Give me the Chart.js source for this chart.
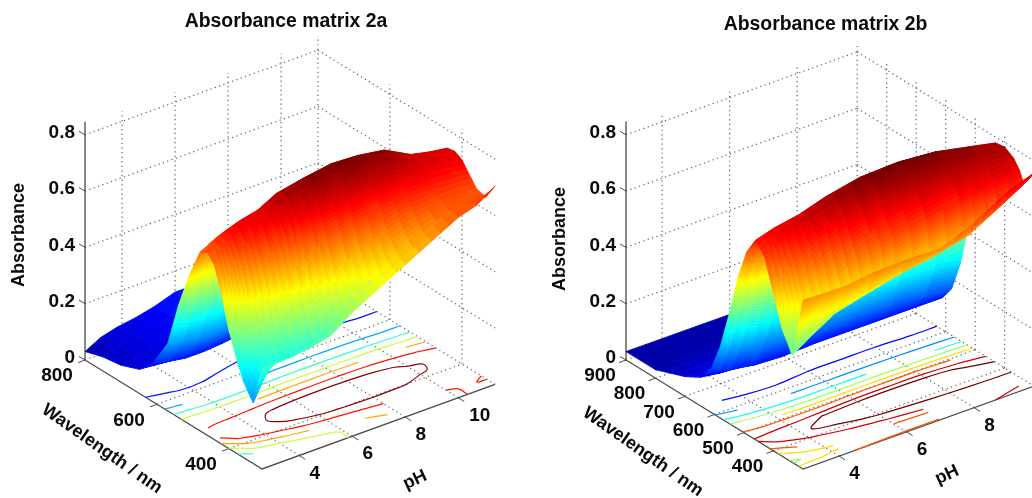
<!DOCTYPE html>
<html>
<head>
<meta charset="utf-8">
<title>Absorbance matrix</title>
<script src="https://cdn.jsdelivr.net/npm/chart.js@4"></script>
<style>
  html, body { margin: 0; padding: 0; background: #fff; overflow: hidden; }
  canvas { position: absolute; top: 0; }
  #matrizA { left: 0; }
  #matrizB { left: 520px; }
</style>
</head>
<body>
<canvas id="matrizA" width="520" height="498"></canvas>
<canvas id="matrizB" width="512" height="498"></canvas>
<script>
// Valores: filas = longitud de onda, columnas = pH
const phA = [2.6, 3.2, 3.8, 4.5, 5.2, 6, 7, 8, 9, 10, 10.7, 11.39];
const wavelengthA = [800, 750, 700, 650, 610, 570, 540, 510, 480, 460, 440, 420, 400, 380, 360, 333, 308];
const absorbanceA = [
  [0.03, 0.06, 0.075, 0.085, 0.1, 0.125, 0.125, 0.105, 0.085, 0.065, 0.05, 0.04],
  [0.05, 0.07, 0.085, 0.095, 0.105, 0.12, 0.125, 0.115, 0.095, 0.075, 0.06, 0.05],
  [0.06, 0.065, 0.075, 0.085, 0.1, 0.11, 0.115, 0.11, 0.1, 0.085, 0.075, 0.07],
  [0.085, 0.08, 0.08, 0.085, 0.095, 0.1, 0.105, 0.105, 0.105, 0.1, 0.095, 0.095],
  [0.14, 0.125, 0.115, 0.115, 0.12, 0.13, 0.14, 0.145, 0.145, 0.145, 0.14, 0.14],
  [0.24, 0.23, 0.22, 0.215, 0.22, 0.23, 0.235, 0.235, 0.235, 0.23, 0.225, 0.225],
  [0.4, 0.38, 0.365, 0.36, 0.36, 0.365, 0.37, 0.37, 0.365, 0.36, 0.35, 0.345],
  [0.53, 0.54, 0.54, 0.54, 0.545, 0.55, 0.555, 0.555, 0.55, 0.54, 0.52, 0.5],
  [0.635, 0.665, 0.675, 0.69, 0.705, 0.715, 0.72, 0.72, 0.71, 0.68, 0.655, 0.625],
  [0.65, 0.7, 0.72, 0.735, 0.77, 0.785, 0.79, 0.785, 0.77, 0.74, 0.72, 0.69],
  [0.62, 0.71, 0.735, 0.745, 0.79, 0.815, 0.83, 0.825, 0.81, 0.76, 0.745, 0.735],
  [0.53, 0.655, 0.7, 0.73, 0.76, 0.79, 0.8, 0.8, 0.79, 0.755, 0.745, 0.74],
  [0.42, 0.56, 0.62, 0.66, 0.72, 0.74, 0.755, 0.76, 0.755, 0.74, 0.735, 0.725],
  [0.34, 0.45, 0.51, 0.56, 0.6, 0.64, 0.67, 0.69, 0.7, 0.7, 0.695, 0.69],
  [0.27, 0.36, 0.4, 0.45, 0.49, 0.54, 0.585, 0.62, 0.65, 0.66, 0.66, 0.655],
  [0.215, 0.325, 0.33, 0.34, 0.38, 0.44, 0.5, 0.56, 0.6, 0.645, 0.655, 0.645],
  [0.36, 0.36, 0.36, 0.37, 0.385, 0.44, 0.49, 0.54, 0.59, 0.64, 0.66, 0.705],
];
const levelsA = [0.11, 0.22, 0.325, 0.43, 0.54, 0.65, 0.75];
const phTicksA = [4, 6, 8, 10];
const wlTicksA = [800, 600, 400];

const phB = [2.93, 3.5, 4.2, 5, 6, 7, 8, 9, 9.78];
const wavelengthB = [900, 800, 700, 650, 610, 580, 550, 520, 490, 460, 430, 400, 370, 350, 337, 320, 300];
const absorbanceB = [
  [0.03, 0.03, 0.03, 0.03, 0.03, 0.03, 0.03, 0.025, 0.02],
  [0.03, 0.035, 0.04, 0.04, 0.04, 0.04, 0.035, 0.03, 0.03],
  [0.07, 0.07, 0.07, 0.07, 0.07, 0.07, 0.07, 0.065, 0.06],
  [0.1, 0.09, 0.085, 0.085, 0.09, 0.09, 0.09, 0.085, 0.085],
  [0.16, 0.13, 0.115, 0.11, 0.115, 0.115, 0.115, 0.115, 0.115],
  [0.255, 0.22, 0.2, 0.19, 0.19, 0.19, 0.185, 0.175, 0.165],
  [0.39, 0.35, 0.32, 0.305, 0.305, 0.305, 0.3, 0.29, 0.275],
  [0.54, 0.5, 0.475, 0.455, 0.455, 0.46, 0.46, 0.45, 0.44],
  [0.65, 0.63, 0.63, 0.63, 0.65, 0.655, 0.655, 0.63, 0.6],
  [0.71, 0.73, 0.745, 0.775, 0.8, 0.805, 0.795, 0.76, 0.715],
  [0.67, 0.73, 0.765, 0.8, 0.83, 0.835, 0.825, 0.8, 0.78],
  [0.56, 0.655, 0.71, 0.75, 0.785, 0.8, 0.8, 0.795, 0.785],
  [0.45, 0.55, 0.6, 0.665, 0.705, 0.73, 0.75, 0.76, 0.765],
  [0.41, 0.47, 0.53, 0.6, 0.655, 0.68, 0.7, 0.725, 0.735],
  [0.38, 0.425, 0.475, 0.5, 0.53, 0.565, 0.6, 0.66, 0.7],
  [0.47, 0.49, 0.515, 0.53, 0.55, 0.57, 0.6, 0.665, 0.72],
  [0.6, 0.597, 0.596, 0.608, 0.612, 0.608, 0.655, 0.726, 0.758],
];
const levelsB = [0.1, 0.2, 0.3, 0.4, 0.5, 0.6, 0.7, 0.77];
const phTicksB = [4, 6, 8];
const wlTicksB = [900, 800, 700, 600, 500, 400];

const absTicks = [0, 0.2, 0.4, 0.6, 0.8];

const GRIS = "#4a4a4a";
const FUENTE = '"Liberation Sans", Arial, sans-serif';
// el trazo "continuo" con dash largo evita el camino rapido de Chart.js, que supone x ordenada
const CONTINUO = [100000];

function jet(z) {
  const t = z / 0.82;
  const c = (v) => Math.round(255 * Math.max(0, Math.min(1, v)));
  const r = c(1.5 - Math.abs(4 * t - 3));
  const g = c(1.5 - Math.abs(4 * t - 2));
  const b = c(1.5 - Math.abs(4 * t - 1));
  return "rgb(" + r + "," + g + "," + b + ")";
}

// une los tramos sueltos de un contorno en polilineas
function encadenar(tramos) {
  const igual = (a, b) => Math.abs(a.x - b.x) < 0.01 && Math.abs(a.y - b.y) < 0.01;
  const resto = tramos.slice();
  const cadenas = [];
  while (resto.length) {
    const cad = resto.pop().slice();
    let siguio = true;
    while (siguio) {
      siguio = false;
      for (let i = 0; i < resto.length; i++) {
        const s = resto[i];
        if (igual(cad[cad.length - 1], s[0])) cad.push(s[1]);
        else if (igual(cad[cad.length - 1], s[1])) cad.push(s[0]);
        else if (igual(cad[0], s[0])) cad.unshift(s[1]);
        else if (igual(cad[0], s[1])) cad.unshift(s[0]);
        else continue;
        resto.splice(i, 1);
        siguio = true;
        break;
      }
    }
    cadenas.push(cad);
  }
  return cadenas;
}

function crearGrafico(idCanvas, cfg) {
  const v = cfg.vista;
  const pMin = cfg.ph[0];
  const pMax = cfg.ph[cfg.ph.length - 1];
  const wMax = v.wlMax;
  const wMin = v.wlMin;

  // proyeccion del espacio (pH, nm, absorbancia) a las coordenadas de los ejes
  function proy(p, w, z) {
    return {
      x: v.ox + (p - v.p0) * v.dxPh + (wMax - w) * v.dxNm,
      y: v.oy - (p - v.p0) * v.dyPh + (wMax - w) * v.dyNm - z * v.dzAbs,
    };
  }

  const datasets = [];
  const corte = { x: NaN, y: NaN };

  function linea(puntos, color, ancho, dash, curva) {
    datasets.push({
      data: puntos,
      showLine: true,
      pointRadius: 0,
      borderColor: color,
      borderWidth: ancho,
      borderDash: dash || CONTINUO,
      fill: false,
      tension: curva || 0,
    });
  }

  // rejilla punteada de paredes y piso
  const rej = [];
  function seg(a, b) {
    rej.push(a, b, corte);
  }
  absTicks.forEach((z) => {
    seg(proy(pMin, wMax, z), proy(pMax, wMax, z));
    seg(proy(pMax, wMax, z), proy(pMax, wMin, z));
  });
  cfg.phTicks.forEach((p) => {
    seg(proy(p, wMax, 0), proy(p, wMax, v.zGrid));
    seg(proy(p, wMin, 0), proy(p, wMax, 0));
  });
  cfg.wlTicks.forEach((w) => {
    if (w < wMax) {
      seg(proy(pMax, w, 0), proy(pMax, w, v.zGrid));
      seg(proy(pMin, w, 0), proy(pMax, w, 0));
    }
  });
  seg(proy(pMax, wMax, 0), proy(pMax, wMax, v.zEsquina));
  linea(rej, "#5c5c5c", 1.2, [1.2, 3.4]);

  // ejes solidos y marcas
  linea([proy(pMin, wMax, v.zTop), proy(pMin, wMax, 0), proy(pMin, wMin, 0), proy(pMax, wMin, 0)], GRIS, 1.3);
  const marcas = [];
  absTicks.forEach((z) => {
    const a = proy(pMin, wMax, z);
    marcas.push(a, { x: a.x - 6, y: a.y - 3.5 }, corte);
  });
  cfg.wlTicks.forEach((w) => {
    const a = proy(pMin, w, 0);
    marcas.push(a, { x: a.x - 7, y: a.y + 2.6 }, corte);
  });
  cfg.phTicks.forEach((p) => {
    const a = proy(p, wMin, 0);
    marcas.push(a, { x: a.x + 6, y: a.y + 3.8 }, corte);
  });
  linea(marcas, GRIS, 1);

  // contornos en el piso (surfc)
  cfg.niveles.forEach((nivel) => {
    const tramos = [];
    for (let i = 0; i < cfg.wl.length - 1; i++) {
      for (let j = 0; j < cfg.ph.length - 1; j++) {
        const esq = [
          [cfg.ph[j], cfg.wl[i], cfg.abs[i][j]],
          [cfg.ph[j + 1], cfg.wl[i], cfg.abs[i][j + 1]],
          [cfg.ph[j + 1], cfg.wl[i + 1], cfg.abs[i + 1][j + 1]],
          [cfg.ph[j], cfg.wl[i + 1], cfg.abs[i + 1][j]],
        ];
        const cruces = [];
        for (let k = 0; k < 4; k++) {
          const a = esq[k];
          const b = esq[(k + 1) % 4];
          if ((a[2] - nivel) * (b[2] - nivel) < 0) {
            const t = (nivel - a[2]) / (b[2] - a[2]);
            cruces.push(proy(a[0] + t * (b[0] - a[0]), a[1] + t * (b[1] - a[1]), 0));
          }
        }
        if (cruces.length === 2) {
          tramos.push([cruces[0], cruces[1]]);
        } else if (cruces.length === 4) {
          tramos.push([cruces[0], cruces[1]], [cruces[2], cruces[3]]);
        }
      }
    }
    const pts = [];
    encadenar(tramos).forEach((cad) => {
      pts.push(...cad, corte);
    });
    linea(pts, jet(nivel * 1.08), 1.2, null, 0.35);
  });

  // superficie: de atras hacia adelante, cada celda se colorea por tramos (shading interp)
  for (let i = 0; i < cfg.wl.length - 1; i++) {
    for (let j = cfg.ph.length - 2; j >= 0; j--) {
      const z00 = cfg.abs[i][j];
      const z01 = cfg.abs[i][j + 1];
      const z10 = cfg.abs[i + 1][j];
      const z11 = cfg.abs[i + 1][j + 1];
      const nW = Math.max(1, Math.min(10, Math.ceil(Math.max(Math.abs(z10 - z00), Math.abs(z11 - z01)) / 0.014)));
      const nP = Math.max(1, Math.min(6, Math.ceil(Math.max(Math.abs(z01 - z00), Math.abs(z11 - z10)) / 0.025)));
      const vert = (a, b) => {
        const z = z00 * (1 - a) * (1 - b) + z01 * (1 - a) * b + z10 * a * (1 - b) + z11 * a * b;
        return [cfg.ph[j] + b * (cfg.ph[j + 1] - cfg.ph[j]), cfg.wl[i] + a * (cfg.wl[i + 1] - cfg.wl[i]), z];
      };
      for (let a = 0; a < nW; a++) {
        for (let b = nP - 1; b >= 0; b--) {
          const q = [vert(a / nW, b / nP), vert(a / nW, (b + 1) / nP), vert((a + 1) / nW, (b + 1) / nP), vert((a + 1) / nW, b / nP)];
          const color = jet((q[0][2] + q[1][2] + q[2][2] + q[3][2]) / 4);
          const puntos = q.map((e) => proy(e[0], e[1], e[2]));
          puntos.push(puntos[0]);
          datasets.push({
            data: puntos,
            showLine: true,
            pointRadius: 0,
            borderColor: color,
            borderWidth: 0.8,
            borderDash: CONTINUO,
            backgroundColor: color,
            fill: "shape",
            tension: 0,
          });
        }
      }
    }
  }

  // Chart.js pinta primero el order mas alto
  datasets.forEach((d, i) => {
    d.order = datasets.length - i;
  });

  const textos = {
    id: "textos",
    afterDraw(chart) {
      const ctx = chart.ctx;
      const sx = chart.scales.x;
      const sy = chart.scales.y;
      function texto(t, x, y, tam, rot, alinear) {
        ctx.save();
        ctx.translate(sx.getPixelForValue(x), sy.getPixelForValue(y));
        ctx.rotate((rot * Math.PI) / 180);
        ctx.font = "bold " + tam + "px " + FUENTE;
        ctx.fillStyle = "#0a0a0a";
        ctx.textAlign = alinear || "center";
        ctx.textBaseline = "middle";
        ctx.fillText(t, 0, 0);
        ctx.restore();
      }
      texto(cfg.titulo, v.tituloX, v.tituloY, 19.4, 0);
      texto("Absorbance", v.absX, v.absY, 18, -90);
      texto("Wavelength / nm", v.wlX, v.wlY, 18, 35);
      texto("pH", v.phX, v.phY, 18, -25);
      absTicks.forEach((z) => {
        const a = proy(pMin, wMax, z);
        texto(String(z), a.x - 10, a.y - 2, 19, 0, "right");
      });
      cfg.wlTicks.forEach((w) => {
        const a = proy(pMin, w, 0);
        texto(String(w), a.x + v.wlEtX, a.y + v.wlEtY, 19, 0);
      });
      cfg.phTicks.forEach((p) => {
        const a = proy(p, wMin, 0);
        const extra = p >= 10 ? 6 : 0;
        texto(String(p), a.x + 15.5 + extra, a.y + 18, 19, 0);
      });
    },
  };

  return new Chart(document.getElementById(idCanvas), {
    type: "scatter",
    data: { datasets: datasets },
    options: {
      responsive: false,
      animation: false,
      events: [],
      layout: { padding: 0 },
      plugins: { legend: { display: false }, title: { display: false }, tooltip: { enabled: false } },
      scales: {
        x: { type: "linear", display: false, min: v.xMin, max: v.xMax },
        y: { type: "linear", display: false, min: 0, max: 498, reverse: true },
      },
    },
    plugins: [textos],
  });
}

crearGrafico("matrizA", {
  titulo: "Absorbance matrix 2a",
  ph: phA,
  wl: wavelengthA,
  abs: absorbanceA,
  niveles: levelsA,
  phTicks: phTicksA,
  wlTicks: wlTicksA,
  vista: {
    xMin: 0, xMax: 520,
    ox: 85, oy: 360, p0: 2.6, wlMax: 800, wlMin: 308,
    dxPh: 26.5, dyPh: 9.63, dxNm: 0.36, dyNm: 0.2215, dzAbs: 281.5,
    zTop: 0.846, zGrid: 0.835, zEsquina: 0.85,
    tituloX: 286, tituloY: 22, absX: 19, absY: 235, wlX: 102, wlY: 449, phX: 415, phY: 480,
    wlEtX: -28, wlEtY: 16,
  },
});

crearGrafico("matrizB", {
  titulo: "Absorbance matrix 2b",
  ph: phB,
  wl: wavelengthB,
  abs: absorbanceB,
  niveles: levelsB,
  phTicks: phTicksB,
  wlTicks: wlTicksB,
  vista: {
    xMin: 520, xMax: 1032,
    ox: 626, oy: 360, p0: 2.93, wlMax: 900, wlMin: 300,
    dxPh: 33.75, dyPh: 12.1, dxNm: 0.295, dyNm: 0.1817, dzAbs: 281.5,
    zTop: 0.847, zGrid: 0.833, zEsquina: 0.833,
    tituloX: 825.5, tituloY: 25, absX: 560, absY: 239, wlX: 643, wlY: 452, phX: 947, phY: 475,
    wlEtX: -26, wlEtY: 16,
  },
});
</script>
</body>
</html>
